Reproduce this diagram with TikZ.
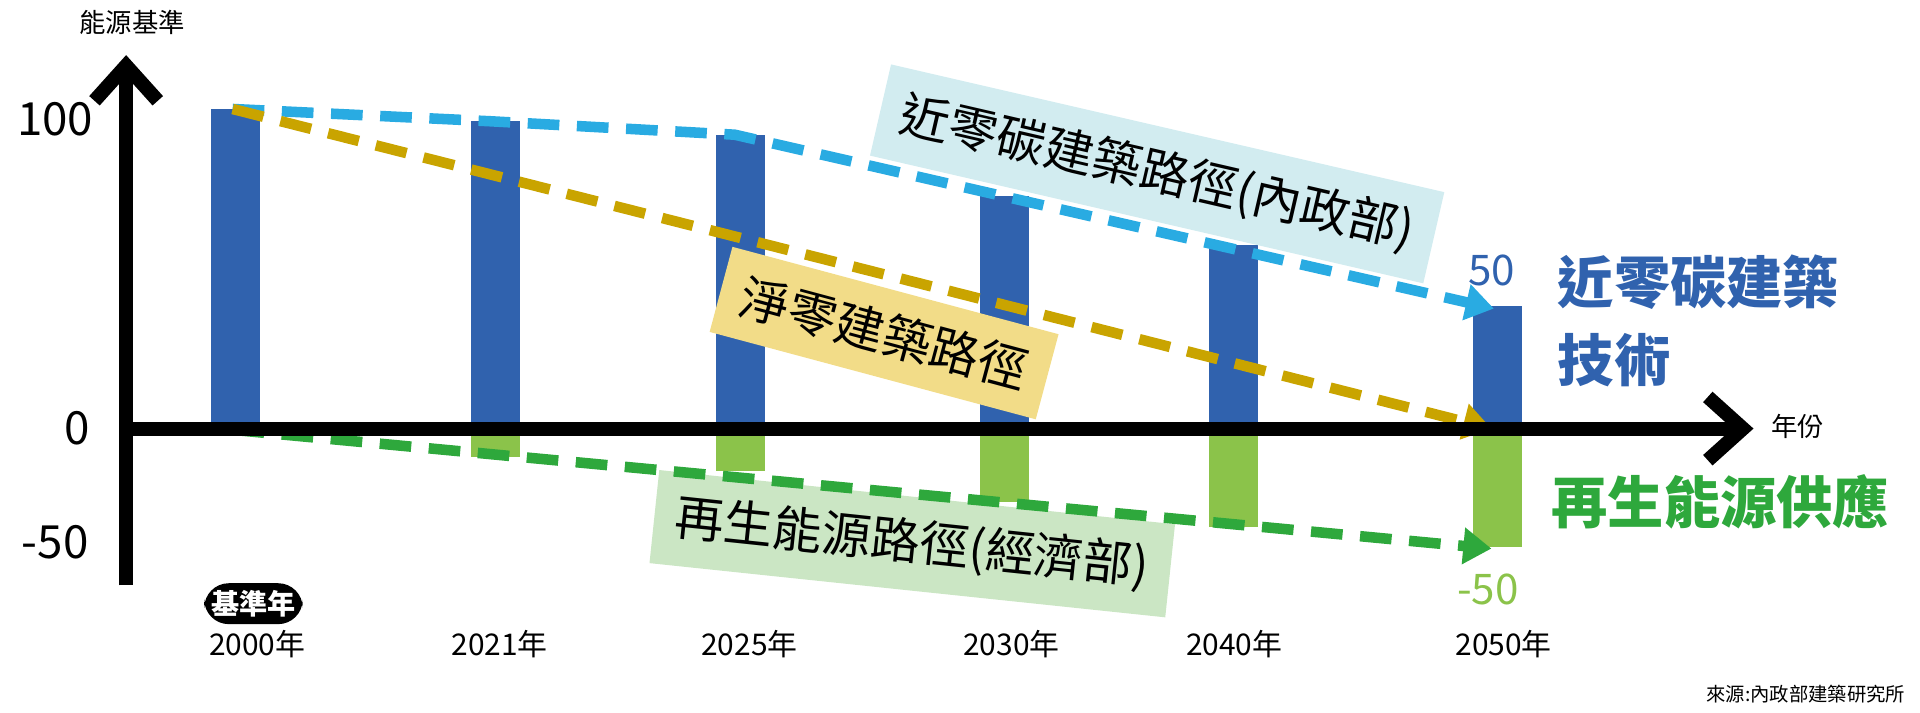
\documentclass[tikz,border=0pt]{standalone}
\usepackage{fontspec}
\setmainfont{Noto Sans CJK TC}
\usetikzlibrary{arrows.meta}
\definecolor{barblue}{HTML}{3062AE}
\definecolor{bargreen}{HTML}{8BC34A}
\definecolor{lineblue}{HTML}{29ABE2}
\definecolor{linegold}{HTML}{C9A400}
\definecolor{linegreen}{HTML}{2EA83C}
\definecolor{boxblue}{HTML}{D2ECF0}
\definecolor{boxgold}{HTML}{F2DC88}
\definecolor{boxgreen}{HTML}{CBE6C4}
\tikzset{
  bar/.style={fill=barblue, draw=none},
  gbar/.style={fill=bargreen, draw=none},
  path/.style={dashed, dash pattern=on 9pt off 5pt, line width=3pt, -{Triangle[length=8pt,width=10pt]}},
  tag/.style={inner sep=6pt, font=\fontsize{14}{16}\selectfont},
  yr/.style={font=\fontsize{8.5}{10}\selectfont}
}
\begin{document}
\begin{tikzpicture}[x=0.012245cm, y=-0.012245cm]
  \useasboundingbox(0,0) rectangle (1568,582);
  % bars
  \foreach \x/\t/\b in {172/89/350, 385/99/373, 585/110/385, 800/160/410, 987/200/430, 1203/250/447}{
    \fill[bar](\x,\t) rectangle (\x+40,350);
    \fill[gbar](\x,350) rectangle (\x+40,\b);
  }
  % boxes
  \node[tag, fill=boxblue, rotate=-13] (tagA) at (945,142) {近零碳建築路徑(內政部)};
  \node[tag, fill=boxgold, rotate=-15] (tagB) at (722,272) {淨零建築路徑};
  \node[tag, fill=boxgreen, rotate=-6] (tagC) at (745,444) {再生能源路徑(經濟部)};
  % paths
  \coordinate (s) at (190,89);
  \coordinate (z) at (190,351);
  \draw[path, lineblue](s)--(400,99)--(600,110)--(1220,252);
  \draw[path, linegold](s)--(1218,350);
  \draw[path, linegreen](z)--(1218,448);
  % axes
  \coordinate (o) at (103,350);
  \draw[line width=4pt, -{Straight Barb[length=10pt,width=18pt]}](103,478)--(103,45)coordinate(ytop);
  \draw[line width=4pt, -{Straight Barb[length=10pt,width=18pt]}](103,350)--(1432,350)coordinate(xend);
  \node[font=\fontsize{7.5}{9}\selectfont] (ylab) at (108,18) {能源基準};
  \node[font=\fontsize{7.5}{9}\selectfont] (xlab) at (1468,348) {年份};
  \node[font=\fontsize{13}{15}\selectfont] (t100) at (45,97) {100};
  \node[font=\fontsize{13}{15}\selectfont] (t0) at (63,350) {0};
  \node[font=\fontsize{13}{15}\selectfont] (t50) at (45,443) {-50};
  \node[font=\fontsize{12}{14}\selectfont, text=barblue] (v50) at (1218,221) {50};
  \node[font=\fontsize{12}{14}\selectfont, text=bargreen] (vm50) at (1215,481) {-50};
  \node[anchor=west, align=left, font=\fontsize{16}{22}\selectfont\bfseries, text=barblue] (tech) at (1262,262) {近零碳建築\\技術};
  \node[font=\fontsize{16}{20}\selectfont\bfseries, text=linegreen] (supply) at (1405,410) {再生能源供應};
  % years
  \node[fill=black, text=white, rounded corners=7pt, inner sep=2pt, font=\fontsize{8}{9}\selectfont\bfseries] (base) at (207,493) {基準年};
  \foreach \x/\y in {210/2000, 408/2021, 612/2025, 826/2030, 1008/2040, 1228/2050}
    \node[yr] (y\y) at (\x,526) {\y{}年};
  \node[anchor=east, font=\fontsize{5.5}{7}\selectfont] (src) at (1566,567) {來源:內政部建築研究所};
\end{tikzpicture}
\end{document}
